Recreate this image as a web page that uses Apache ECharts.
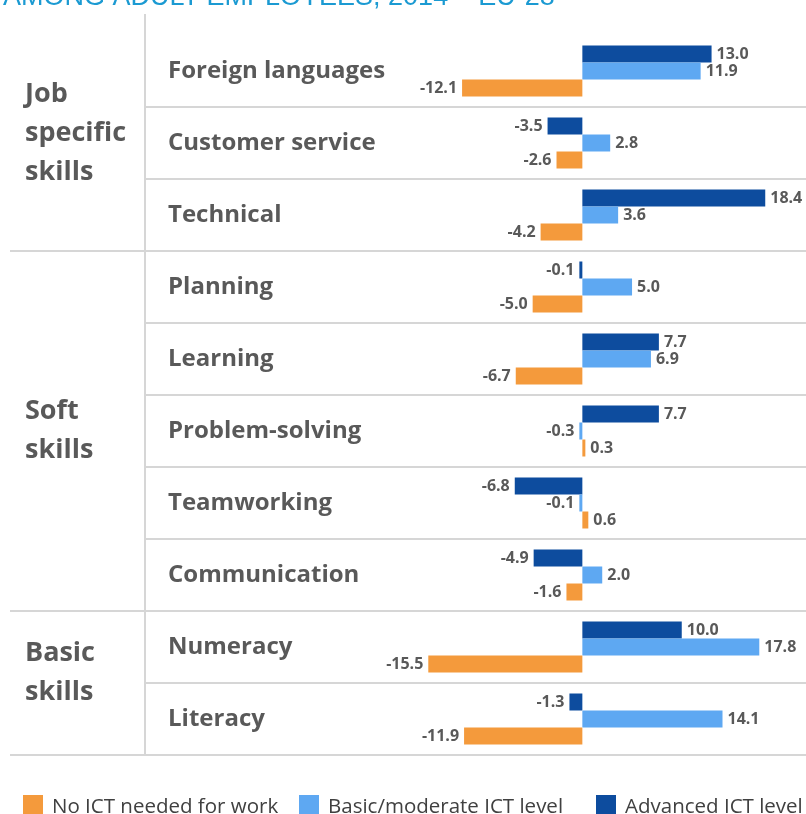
<!DOCTYPE html>
<html>
<head>
<meta charset="utf-8">
<script src="https://cdn.jsdelivr.net/npm/echarts@6/dist/echarts.min.js"></script>
<style>
  html, body { margin: 0; padding: 0; background: #fff; }
  #chart { width: 806px; height: 814px; }
</style>
</head>
<body>
<div id="chart"></div>
<script>
// skills, top to bottom
const skills = ['Foreign languages', 'Customer service', 'Technical', 'Planning', 'Learning',
  'Problem-solving', 'Teamworking', 'Communication', 'Numeracy', 'Literacy'];
const groups = ['Job\nspecific\nskills', 'Soft\nskills', 'Basic\nskills'];
const groupSizes = [3, 5, 2];

const seriesNames = ['Advanced ICT level', 'Basic/moderate ICT level', 'No ICT needed for work'];
const advanced = [13.0, -3.5, 18.4, -0.1, 7.7, 7.7, -6.8, -4.9, 10.0, -1.3];
const basic = [11.9, 2.8, 3.6, 5.0, 6.9, -0.3, -0.1, 2.0, 17.8, 14.1];
const noIct = [-12.1, -2.6, -4.2, -5.0, -6.7, 0.3, 0.6, -1.6, -15.5, -11.9];
const colors = ['#0d4c9e', '#5ea8f2', '#f49a3c'];
const legendOrder = ['No ICT needed for work', 'Basic/moderate ICT level', 'Advanced ICT level'];

const chart = echarts.init(document.getElementById('chart'));
const gray = '#595959';
const lineColor = '#d6d6d6';
const font = '"Open Sans", sans-serif';

function barData (arr) {
  return arr.map(function (v) {
    return { value: v, label: { position: v < 0 ? 'left' : 'right' } };
  });
}

const series = [advanced, basic, noIct].map(function (arr, i) {
  return {
    name: seriesNames[i],
    type: 'bar',
    data: barData(arr),
    barWidth: 17,
    barGap: '0%',
    barMinHeight: 3,
    itemStyle: { color: colors[i] },
    label: {
      show: true,
      distance: 5,
      color: gray,
      fontFamily: font,
      fontWeight: 'bold',
      fontSize: 16,
      formatter: function (p) { return p.value.toFixed(1); }
    }
  };
});

const gridTop = 35, rowH = 72, left = 145;

// group labels + separators
const graphic = [
  { type: 'line', shape: { x1: left, y1: 14, x2: left, y2: gridTop + rowH * skills.length },
    style: { stroke: lineColor, lineWidth: 2 } },
  { type: 'line', shape: { x1: 10, y1: gridTop + rowH * skills.length, x2: 806, y2: gridTop + rowH * skills.length },
    style: { stroke: lineColor, lineWidth: 2 } }
];
const groupOffsets = [-10, 0, -10];
let row = 0;
groups.forEach(function (g, i) {
  const center = gridTop + rowH * (row + groupSizes[i] / 2);
  graphic.push({
    type: 'text', left: 25, top: center + groupOffsets[i] - g.split('\n').length * 39 / 2,
    style: { text: g, fill: gray, font: 'bold 27px ' + font, lineHeight: 39 }
  });
  row += groupSizes[i];
  if (i < groups.length - 1) {
    graphic.push({ type: 'line', shape: { x1: 10, y1: gridTop + rowH * row, x2: left, y2: gridTop + rowH * row },
      style: { stroke: lineColor, lineWidth: 2 } });
  }
});

// legend entries sit in fixed columns
const legendLeft = [18, 294, 591];
const legend = legendOrder.map(function (name, i) {
  return {
    data: [name],
    left: legendLeft[i], top: 790,
    icon: 'rect',
    itemWidth: 20, itemHeight: 24,
    textStyle: { color: '#404040', fontFamily: font, fontSize: 20.5, padding: [0, 0, 0, 4] }
  };
});

const option = {
  animation: false,
  title: {
    text: 'AMONG ADULT EMPLOYEES, 2014 \u2013 EU-28',
    left: -2, top: -21,
    textStyle: { color: '#1b9ad2', fontFamily: 'Liberation Sans, Arial', fontWeight: 'normal', fontSize: 27 }
  },
  grid: { left: left, right: 0, top: gridTop, bottom: 814 - gridTop - rowH * skills.length },
  xAxis: { type: 'value', min: -44, max: 22.5, show: false },
  yAxis: {
    type: 'category',
    data: skills,
    inverse: true,
    axisLine: { show: false },
    axisTick: { show: false },
    splitLine: { show: true, showMinLine: false, lineStyle: { color: lineColor, width: 2 } },
    axisLabel: { inside: true, margin: 23, color: gray, fontFamily: font, fontWeight: 'bold', fontSize: 24 }
  },
  legend: legend,
  graphic: graphic,
  series: series
};
chart.setOption(option);
</script>
</body>
</html>
